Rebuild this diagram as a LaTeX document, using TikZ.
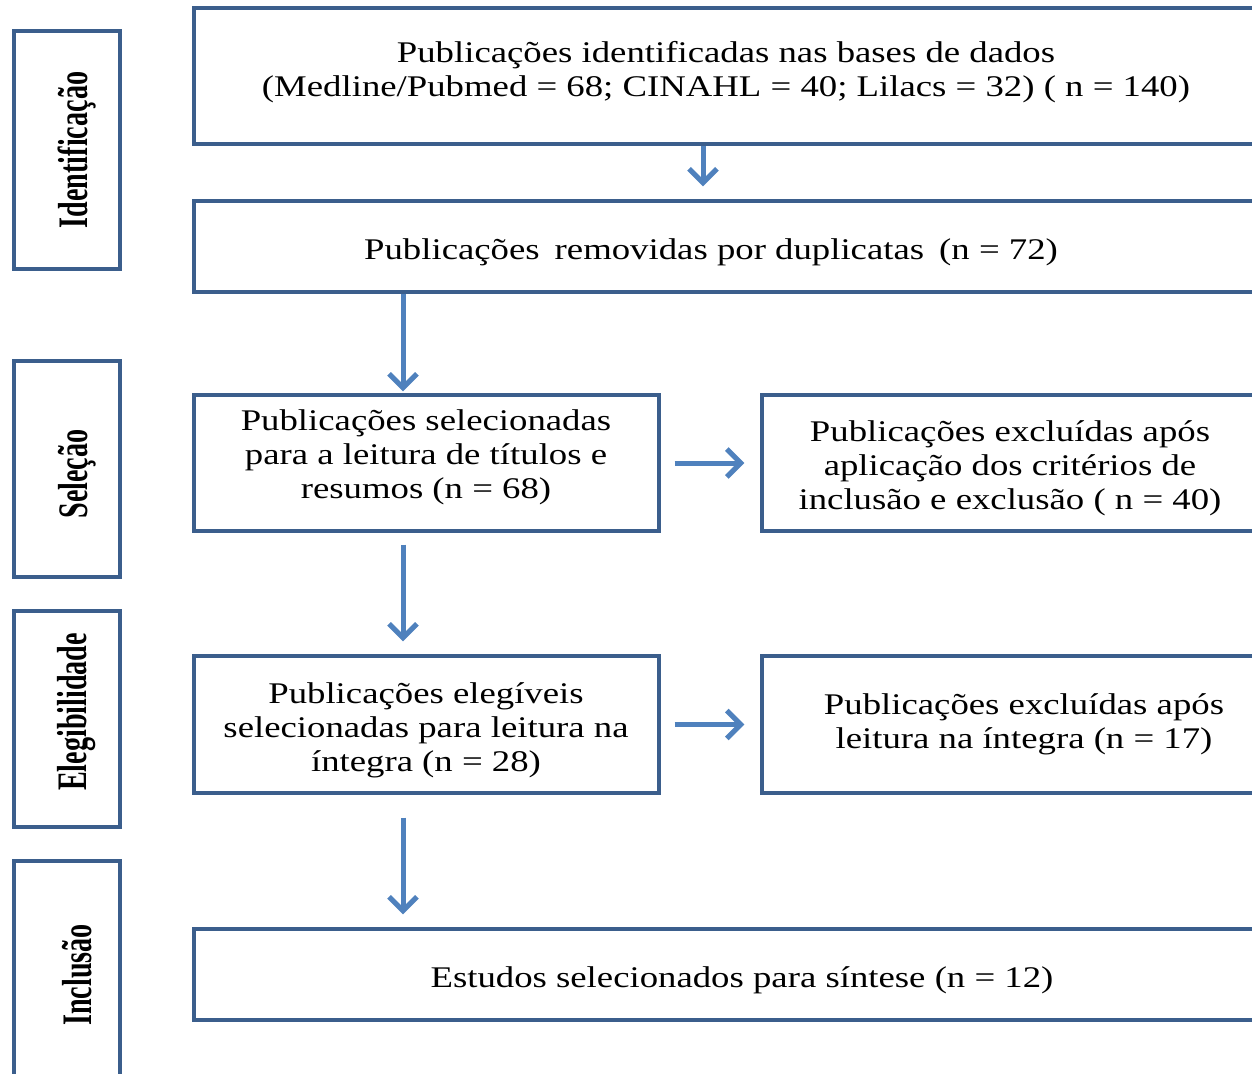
\documentclass[tikz,border=0pt]{standalone}
\usepackage{fontspec}
\setmainfont{Liberation Serif}
\newfontfamily\bodyfont[FakeStretch=1.225]{Liberation Serif}
\newfontfamily\labfont[FakeStretch=0.67]{Liberation Serif}
\usetikzlibrary{arrows.meta}
\definecolor{boxblue}{HTML}{3B5E8C}
\definecolor{arrblue}{HTML}{4F81BD}
\tikzset{
  box/.style={draw=boxblue, line width=3.4pt, inner sep=0pt, fill=none},
  txt/.style={align=center, inner sep=0pt, font=\bodyfont\fontsize{30}{34}\selectfont},
  lab/.style={rotate=90, inner sep=0pt, font=\labfont\bfseries\fontsize{42}{42}\selectfont},
  arr/.style={draw=arrblue, line width=5pt, -{Straight Barb[length=14pt,width=28pt]}}
}
\begin{document}
\begin{tikzpicture}[x=1pt,y=-1pt]
\useasboundingbox (0,0) rectangle (1252,1073);
\clip (0,0) rectangle (1252,1073);
% left stage boxes
\node[box, minimum width=106, minimum height=238] (L1) at (67,150) {};
\node[box, minimum width=106, minimum height=216] (L2) at (67,469) {};
\node[box, minimum width=106, minimum height=216] (L3) at (67,719) {};
\node[box, minimum width=106, minimum height=229] (L4) at (67,975.5) {};
\node[lab] (l1) at (77,150) {Identificação};
\node[lab] (l2) at (77,474) {Seleção};
\node[lab] (l3) at (77,712) {Elegibilidade};
\node[lab] (l4) at (77,975) {Inclusão};
% main boxes
\node[box, minimum width=1076, minimum height=136] (A) at (732,76) {};
\node[box, minimum width=1076, minimum height=91] (B) at (732,246.5) {};
\node[box, minimum width=465, minimum height=136] (C) at (426.5,463) {};
\node[box, minimum width=508, minimum height=136] (D) at (1016,463) {};
\node[box, minimum width=465, minimum height=137] (E) at (426.5,724.5) {};
\node[box, minimum width=508, minimum height=137] (F) at (1016,724.5) {};
\node[box, minimum width=1076, minimum height=91] (G) at (732,974.5) {};
% texts
\node[txt] (tA) at (726,72) {Publicações identificadas nas bases de dados\\(Medline/Pubmed = 68; CINAHL = 40; Lilacs = 32) ( n = 140)};
\node[txt] (tB) at (711,252) {Publicações\hspace{0.5em}removidas por duplicatas\hspace{0.5em}(n = 72)};
\node[txt] (tC) at (426,457) {Publicações selecionadas\\para a leitura de títulos e\\resumos (n = 68)};
\node[txt] (tD) at (1010,468) {Publicações excluídas após\\aplicação dos critérios de\\inclusão e exclusão ( n = 40)};
\node[txt] (tE) at (426,730) {Publicações elegíveis\\selecionadas para leitura na\\íntegra (n = 28)};
\node[txt] (tF) at (1024,724.5) {Publicações excluídas após\\leitura na íntegra (n = 17)};
\node[txt] (tG) at (742,980) {Estudos selecionados para síntese (n = 12)};
% connectors
\coordinate (xa) at (703,0);
\coordinate (xb) at (403,0);
\draw[arr, shorten >=13pt] (A.south -| xa) -- (B.north -| xa);
\draw[arr, shorten >=2pt] (B.south -| xb) -- (C.north -| xb);
\draw[arr, shorten <=12pt, shorten >=13pt] (C.south -| xb) -- (E.north -| xb);
\draw[arr, shorten <=23pt, shorten >=13pt] (E.south -| xb) -- (G.north -| xb);
\draw[arr, shorten <=14pt, shorten >=16pt] (C.east) -- (D.west);
\draw[arr, shorten <=14pt, shorten >=16pt] (E.east) -- (F.west);
\end{tikzpicture}
\end{document}
